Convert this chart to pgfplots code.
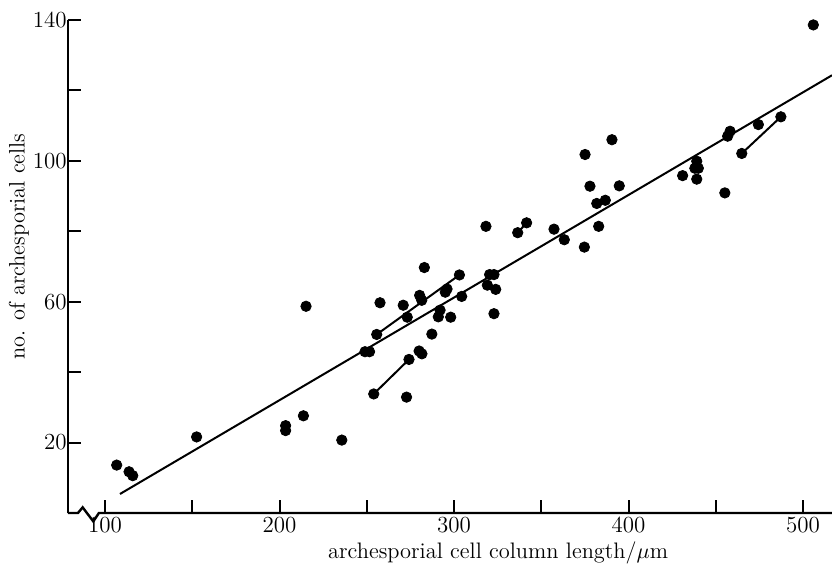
\documentclass[border=0pt]{standalone}
\usepackage{pgfplots}
\pgfplotsset{compat=1.18}
\pgfplotstableread{
x y
106.7 13.6
113.8 11.7
115.9 10.6
152.5 21.6
203.5 24.8
203.5 23.4
213.7 27.6
215.2 58.7
235.7 20.7
254.0 33.8
274.2 43.6
272.8 32.9
249.0 45.8
251.6 45.8
255.7 50.7
303.1 67.6
257.6 59.7
270.9 59.0
273.2 55.6
280.3 61.8
281.5 60.4
283.0 69.7
280.0 46.0
281.6 45.2
287.3 50.8
292.0 57.6
291.0 55.7
296.0 63.6
295.0 62.7
298.1 55.6
304.4 61.5
318.3 81.4
320.4 67.7
322.9 67.7
319.1 64.7
323.9 63.5
322.9 56.6
336.5 79.6
341.6 82.4
357.3 80.6
363.2 77.6
374.7 75.5
375.1 101.8
377.9 92.8
381.8 87.9
386.7 88.8
382.9 81.4
390.5 106.0
394.7 92.9
431.0 95.8
438.0 97.9
440.0 97.9
439.1 99.9
439.1 94.8
455.2 90.9
456.8 107.0
458.2 108.4
464.9 102.1
487.3 112.5
474.4 110.3
505.9 138.6
}\pts
\begin{document}
\begin{tikzpicture}
\begin{axis}[
  scale only axis,
  width=382pt, height=246.5pt,
  xmin=78.8, xmax=516.6, ymin=0, ymax=140,
  clip=false,
  axis x line=bottom, axis y line=left,
  x axis line style={draw=none},
  y axis line style={-, line width=1.2pt},
  tick align=inside,
  major tick length=6.5pt,
  tick style={black, line width=1pt},
  xtick={100,150,...,500},
  xticklabels={100,,200,,300,,400,,500},
  ytick={20,40,...,140},
  yticklabels={20,,60,,100,,140},
  every tick label/.append style={font=\fontsize{11.5}{13}\selectfont},
  yticklabel style={inner xsep=0.5pt},
  xticklabel style={inner ysep=2pt},
  xlabel={archesporial cell column length/$\mu$m},
  ylabel={no. of archesporial cells},
  every axis x label/.style={at={(rel axis cs:0.563,0)}, yshift=-20pt, font=\fontsize{11.2}{13}\selectfont},
  every axis y label/.style={at={(rel axis cs:0,0.54)}, xshift=-24.5pt, rotate=90, font=\fontsize{11.2}{13}\selectfont},
]
\addplot[only marks, mark=*, mark size=2.6pt, black] table[x=x,y=y] {\pts};
\addplot[no markers, black, line width=1pt] coordinates {(108.6,5.4) (516.6,124.3)};
\addplot[no markers, black, line width=1pt] coordinates {(254.0,33.8) (274.2,43.6)};
\addplot[no markers, black, line width=1pt] coordinates {(255.7,50.7) (303.1,67.6)};
\addplot[no markers, black, line width=1pt] coordinates {(336.5,79.6) (341.6,82.4)};
\addplot[no markers, black, line width=1pt] coordinates {(464.9,102.1) (487.3,112.5)};
\draw[line width=1.2pt, line join=miter] (axis cs:78.8,0) -- (axis cs:84.5,0) -- (axis cs:87.2,1.6) -- (axis cs:93.3,-2.4) -- (axis cs:96.5,0) -- (axis cs:516.6,0);
\coordinate (ll) at (rel axis cs:0,0);
\coordinate (ur) at (rel axis cs:1,1);
\end{axis}
\pgfresetboundingbox
\useasboundingbox ([shift={(-34pt,-29pt)}]ll) rectangle ([shift={(0pt,10pt)}]ur);
\end{tikzpicture}
\end{document}
